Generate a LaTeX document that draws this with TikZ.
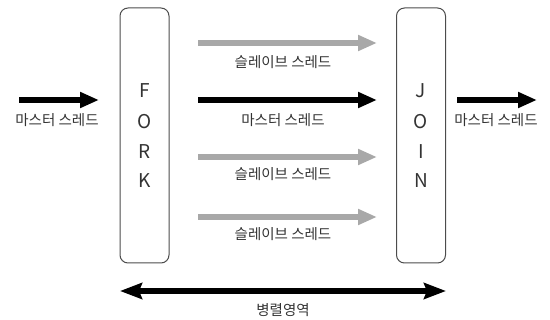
\documentclass[tikz,border=0pt]{standalone}
\usepackage{fontspec}
\setmainfont{Noto Sans CJK KR}
\usetikzlibrary{arrows.meta}
\definecolor{thgray}{HTML}{A8A8A8}
\definecolor{txt}{HTML}{333333}
\tikzset{
  box/.style={draw=black!70, line width=1pt, rounded corners=8pt, minimum width=49pt, minimum height=255pt, inner sep=0pt},
  letter/.style={font=\fontsize{19}{19}\selectfont, text=txt, inner sep=0pt},
  lbl/.style={font=\fontsize{14.5}{15}\selectfont, text=txt, inner sep=0pt},
  blackarrow/.style={line width=5.5pt, draw=black, -{Triangle[length=19pt,width=15pt]}},
  grayarrow/.style={line width=5.5pt, draw=thgray, -{Triangle[length=19pt,width=15pt]}},
  dblarrow/.style={line width=5.5pt, draw=black, {Stealth[length=22pt,width=16pt,inset=3pt]}-{Stealth[length=22pt,width=16pt,inset=3pt]}},
}
\begin{document}
\begin{tikzpicture}[x=1pt,y=-1pt]
\useasboundingbox (0,0) rectangle (550,320);
\node[box] (fork) at (144.5,135.5) {};
\node[box] (join) at (421,135.5) {};
\node[letter] (f1) at (144.5,91) {F};
\node[letter] (f2) at (144.5,122) {O};
\node[letter] (f3) at (144.5,152) {R};
\node[letter] (f4) at (144.5,181) {K};
\node[letter] (j1) at (421,91) {J};
\node[letter] (j2) at (421,122) {O};
\node[letter] (j3) at (421,152) {I};
\node[letter] (j4) at (421,181) {N};
% left input
\coordinate (inS) at (19,100);
\coordinate (inE) at (99,100);
\draw[blackarrow] (inS) -- (inE);
\node[lbl] (inL) at (57,120) {마스터 스레드};
% right output
\coordinate (outS) at (457,100);
\coordinate (outE) at (537,100);
\draw[blackarrow] (outS) -- (outE);
\node[lbl] (outL) at (496,120) {마스터 스레드};
% middle threads
\coordinate (a1) at (198,43);  \coordinate (b1) at (377,43);
\coordinate (a2) at (198,100); \coordinate (b2) at (377,100);
\coordinate (a3) at (198,157); \coordinate (b3) at (377,157);
\coordinate (a4) at (198,217); \coordinate (b4) at (377,217);
\draw[grayarrow] (a1) -- (b1);
\draw[blackarrow] (a2) -- (b2);
\draw[grayarrow] (a3) -- (b3);
\draw[grayarrow] (a4) -- (b4);
\node[lbl] (l1) at (283,62) {슬레이브 스레드};
\node[lbl] (l2) at (283,120) {마스터 스레드};
\node[lbl] (l3) at (283,174) {슬레이브 스레드};
\node[lbl] (l4) at (283,234) {슬레이브 스레드};
% parallel region
\coordinate (pS) at (120,291);
\coordinate (pE) at (446,291);
\draw[dblarrow] (pS) -- (pE);
\node[lbl] (pL) at (283,310) {병렬영역};
\end{tikzpicture}
\end{document}
